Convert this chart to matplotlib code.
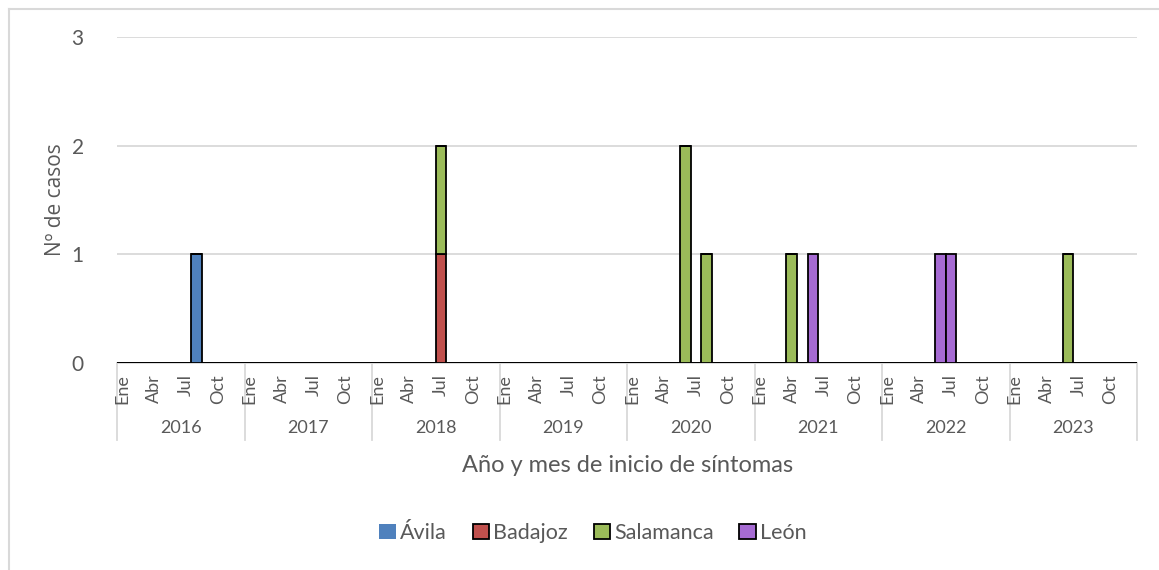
import matplotlib
matplotlib.use("Agg")
import matplotlib.pyplot as plt
from matplotlib.patches import Patch
from matplotlib.lines import Line2D

plt.rcParams['font.family'] = ['Lato', 'DejaVu Sans']

# data
years = [2016, 2017, 2018, 2019, 2020, 2021, 2022, 2023]
month_labels = ['Ene', 'Feb', 'Mar', 'Abr', 'May', 'Jun', 'Jul', 'Ago', 'Sep', 'Oct', 'Nov', 'Dic']
shown_months = ['Ene', 'Abr', 'Jul', 'Oct']
series_names = ['Ávila', 'Badajoz', 'Salamanca', 'León']
series_colors = ['#4f81bd', '#c0504d', '#9bbb59', '#a66bd3']
# cases per (year, month number)
avila_cases = {(2016, 8): 1}
badajoz_cases = {(2018, 7): 1}
salamanca_cases = {(2018, 7): 1, (2020, 6): 2, (2020, 8): 1, (2021, 4): 1, (2023, 6): 1}
leon_cases = {(2021, 6): 1, (2022, 6): 1, (2022, 7): 1}
all_cases = [avila_cases, badajoz_cases, salamanca_cases, leon_cases]

yticks = [0, 1, 2, 3]
text_col = '#595959'
grid_col = '#d9d9d9'

# month slots
slots = [(y, m) for y in years for m in range(1, 13)]
xpos = list(range(len(slots)))

fig = plt.figure(figsize=(11.59, 5.70), dpi=100)
ax = fig.add_axes([117/1159, 1-363/570, (1137-117)/1159, (363-37)/570])

bottom = [0]*len(slots)
for cases, name, col in zip(all_cases, series_names, series_colors):
    vals = [cases.get(s, 0) for s in slots]
    ax.bar([x + 0.5 for x in xpos], vals, width=1.0, bottom=bottom, color=col,
           edgecolor='black', linewidth=1.3, zorder=3)
    bottom = [b + v for b, v in zip(bottom, vals)]

ax.set_xlim(0, len(slots))
ax.set_ylim(0, 3)
ax.set_yticks(yticks)
ax.set_yticklabels([str(t) for t in yticks])
ax.tick_params(axis='y', length=0, pad=24, labelsize=15, labelcolor=text_col)
ax.set_xticks([])
ax.grid(axis='y', color=grid_col, linewidth=1.3, zorder=0)
for s in ['left', 'right', 'top']:
    ax.spines[s].set_visible(False)
ax.spines['bottom'].set_color(grid_col)
ax.spines['bottom'].set_linewidth(1.3)
ax.set_ylabel('Nº de casos', fontsize=15, color=text_col, labelpad=4,
              family=['Open Sans', 'DejaVu Sans'])

# two-level category axis
tr = ax.get_xaxis_transform()
for i, yr in enumerate(years):
    for m in shown_months:
        k = month_labels.index(m)
        ax.text(i*12 + k + 0.5, -0.035, m, rotation=90, ha='center', va='top',
                fontsize=13, color=text_col, transform=tr)
    ax.text(i*12 + 6, -0.2, str(yr), ha='center', va='center', fontsize=13,
            color=text_col, transform=tr)
for i in range(len(years) + 1):
    ax.add_line(Line2D([i*12, i*12], [0, -0.237], color=grid_col, linewidth=1.3,
                       transform=tr, clip_on=False))

fig.text(628/1159, 1-465/570, 'Año y mes de inicio de síntomas', ha='center', va='center',
         fontsize=17, color=text_col)

handles = [Patch(facecolor=series_colors[0], edgecolor='none')]
handles += [Patch(facecolor=c, edgecolor='black', linewidth=1.3) for c in series_colors[1:]]
fig.legend(handles, series_names, loc='center', bbox_to_anchor=(593/1159, 1-533/570),
           ncol=4, frameon=False, fontsize=15.5, labelcolor=text_col,
           handlelength=0.75, handleheight=0.75, handletextpad=0.2, columnspacing=1.2)

# chart border (only top and left visible)
fig.add_artist(Line2D([8.5/1159, 1], [1-8.5/570, 1-8.5/570], color=grid_col, linewidth=1.5))
fig.add_artist(Line2D([8.5/1159, 8.5/1159], [0, 1-8.5/570], color=grid_col, linewidth=1.5))

fig.savefig('out.png', dpi=100)
